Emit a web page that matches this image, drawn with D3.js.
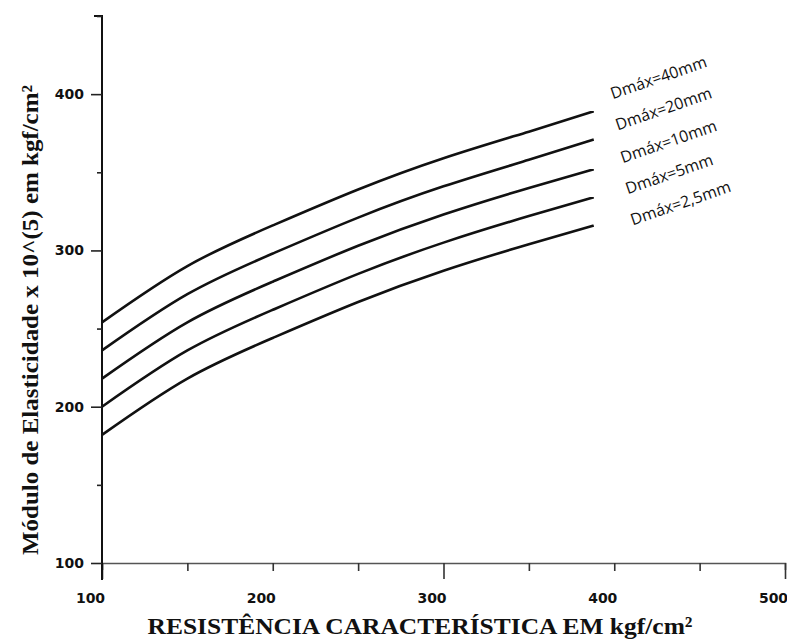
<!DOCTYPE html>
<html>
<head>
<meta charset="utf-8">
<script src="https://cdn.jsdelivr.net/npm/d3@7"></script>
<style>
  body { margin: 0; background: #fff; }
  svg { display: block; }
</style>
</head>
<body>
<div id="chart"></div>
<script>
const width = 787, height = 642;

// resistencia caracteristica (kgf/cm2)
const fck = [100, 150, 200, 250, 300, 350, 388];
const seriesNames = ["Dmáx=40mm", "Dmáx=20mm", "Dmáx=10mm", "Dmáx=5mm", "Dmáx=2,5mm"];
const e40 = [254, 290, 316, 339, 359, 376, 389];
const e20 = [236, 272, 298, 321, 341, 358, 371];
const e10 = [218, 254, 280, 303, 323, 340, 352];
const e5 = [200, 236, 262, 285, 305, 322, 334];
const e25 = [182, 218, 244, 267, 287, 304, 316];
const seriesValues = [e40, e20, e10, e5, e25];

const xTicks = [100, 150, 200, 250, 300, 350, 400, 450, 500];
const yTicks = [100, 150, 200, 250, 300, 350, 400, 450];

const svg = d3.select("#chart").append("svg")
    .attr("width", width)
    .attr("height", height);

const x = d3.scaleLinear().domain([100, 500]).range([102, 785]);
const y = d3.scaleLinear().domain([100, 450]).range([563, 16]);

// x axis
const xAxis = svg.append("g")
    .attr("transform", "translate(0," + y(100) + ")")
    .call(d3.axisBottom(x).tickValues(xTicks).tickSize(7)
        .tickFormat(d => d % 100 === 0 ? d : ""));
xAxis.select(".domain").attr("stroke", "#555").attr("stroke-width", 1.6);
xAxis.selectAll(".tick line")
    .attr("stroke", "#333")
    .attr("stroke-width", 1.6)
    .attr("y2", d => (d === 100 || d === 300 || d === 500) ? 16 : 8);
xAxis.selectAll(".tick text")
    .attr("dx", -12)
    .attr("y", 30)
    .attr("fill", "#111")
    .style("font-family", "DejaVu Sans")
    .style("font-weight", "bold")
    .style("font-size", "14px");

// y axis
const yAxis = svg.append("g")
    .attr("transform", "translate(" + x(100) + ",0)")
    .call(d3.axisLeft(y).tickValues(yTicks).tickSize(9)
        .tickFormat(d => d % 100 === 0 ? d : ""));
yAxis.select(".domain").attr("stroke", "#111").attr("stroke-width", 2)
    .attr("d", "M-8," + y(450) + "H0V" + (y(100) + 17));
yAxis.selectAll(".tick line")
    .attr("stroke", "#222")
    .attr("stroke-width", 1.6)
    .attr("x2", d => d % 100 === 0 ? -11 : -5);
yAxis.selectAll(".tick text")
    .attr("x", -18)
    .attr("fill", "#111")
    .style("font-family", "DejaVu Sans")
    .style("font-weight", "bold")
    .style("font-size", "14px");

// curvas
const line = d3.line()
    .x((d, i) => x(fck[i]))
    .y(d => y(d))
    .curve(d3.curveNatural);

svg.append("g")
    .selectAll("path")
    .data(seriesValues)
    .join("path")
    .attr("fill", "none")
    .attr("stroke", "#111")
    .attr("stroke-width", 2.6)
    .attr("d", line);

// rotulos das curvas
const last = fck.length - 1;
svg.append("g")
    .selectAll("text")
    .data(seriesNames)
    .join("text")
    .attr("transform", (d, i) => {
        const lx = x(fck[last]) + 19 + 5 * i;
        const ly = y(seriesValues[i][last]) - 12 + 3 * i;
        return "translate(" + lx + "," + ly + ") rotate(-19)";
    })
    .attr("fill", "#111")
    .style("font-family", "Open Sans")
    .style("font-size", "16px")
    .text(d => d);

// titulos
svg.append("text")
    .attr("transform", "translate(38," + 320 + ") rotate(-90)")
    .attr("text-anchor", "middle")
    .attr("textLength", 470)
    .attr("lengthAdjust", "spacingAndGlyphs")
    .style("font-family", "Liberation Serif")
    .style("font-weight", "bold")
    .style("font-size", "23px")
    .attr("fill", "#111")
    .text("Módulo de Elasticidade x 10^(5) em kgf/cm²");

svg.append("text")
    .attr("x", 420)
    .attr("y", 634)
    .attr("text-anchor", "middle")
    .attr("textLength", 545)
    .attr("lengthAdjust", "spacingAndGlyphs")
    .style("font-family", "Liberation Serif")
    .style("font-weight", "bold")
    .style("font-size", "24px")
    .attr("fill", "#111")
    .text("RESISTÊNCIA CARACTERÍSTICA EM kgf/cm²");
</script>
</body>
</html>
